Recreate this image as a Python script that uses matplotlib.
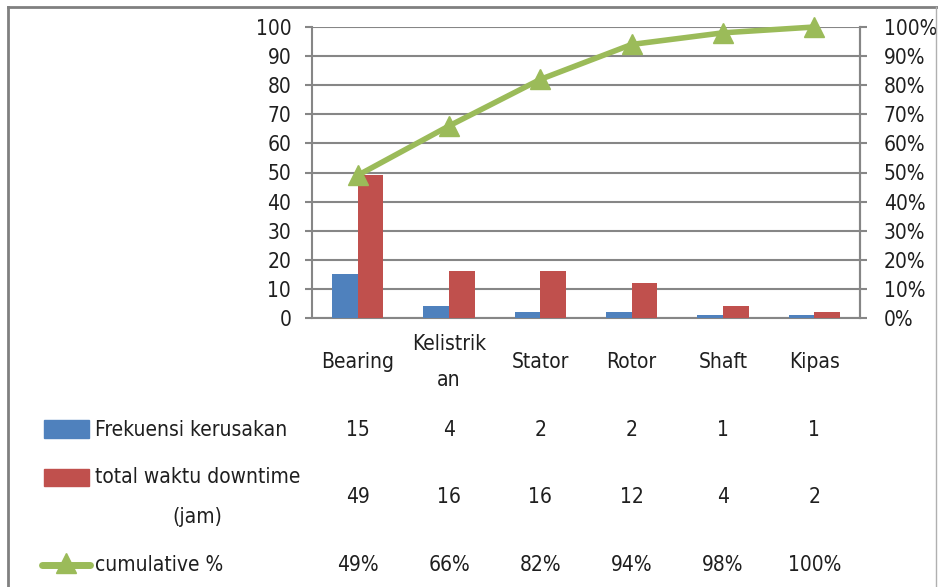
import matplotlib.pyplot as plt
import matplotlib.transforms as mtransforms
from matplotlib.lines import Line2D
from matplotlib.patches import Rectangle

# data
categories = ['Bearing', 'Kelistrik\nan', 'Stator', 'Rotor', 'Shaft', 'Kipas']
frekuensi = [15, 4, 2, 2, 1, 1]
downtime = [49, 16, 16, 12, 4, 2]
cumulative = [0.49, 0.66, 0.82, 0.94, 0.98, 1.00]
cumulative_labels = ['49%', '66%', '82%', '94%', '98%', '100%']
left_ticks = list(range(0, 101, 10))
right_ticks = [t / 100 for t in range(0, 101, 10)]

BLUE = '#4F81BD'
RED = '#C0504D'
GREEN = '#9BBB59'
GRID = '#868686'
TXT = '#1f1f1f'

plt.rcParams['font.family'] = ['DejaVu Sans']
plt.rcParams['font.stretch'] = 'condensed'
FS = 15

W, H = 938, 587
fig = plt.figure(figsize=(W / 100, H / 100), dpi=100)


def fy(px):
    # pixel row (from top) -> figure fraction
    return 1 - px / H


def fx(px):
    return px / W


ax = fig.add_axes([fx(312), fy(318), (860 - 312) / W, (318 - 27) / H])
x = list(range(len(categories)))
bw = 0.281
ax.bar([i - bw / 2 for i in x], frekuensi, width=bw, color=BLUE, zorder=3)
ax.bar([i + bw / 2 for i in x], downtime, width=bw, color=RED, zorder=3)
ax.set_xlim(-0.5, len(categories) - 0.5)
ax.set_ylim(0, 100)
ax.set_yticks(left_ticks)
ax.set_xticks([])
ax.yaxis.grid(True, color=GRID, linewidth=1.5, zorder=0)
ax.set_axisbelow(True)
ax.tick_params(axis='y', length=5, width=1.5, color=GRID, labelsize=FS,
               labelcolor=TXT, pad=10)
ax.spines['top'].set_visible(False)
for s in ['left', 'bottom', 'right']:
    ax.spines[s].set_color(GRID)
    ax.spines[s].set_linewidth(1.5)

ax2 = ax.twinx()
ax2.plot(x, cumulative, color=GREEN, linewidth=4, marker='^', markersize=15,
         zorder=5, clip_on=False)
ax2.set_ylim(0, 1)
ax2.set_yticks(right_ticks)
ax2.set_yticklabels([f'{int(round(t * 100))}%' for t in right_ticks])
ax2.tick_params(axis='y', length=5, width=1.5, color=GRID, labelsize=FS,
                labelcolor=TXT, pad=12)
ax2.spines['top'].set_visible(False)
ax2.spines['right'].set_color(GRID)
ax2.spines['right'].set_linewidth(1.5)
ax2.spines['left'].set_visible(False)
ax2.spines['bottom'].set_visible(False)

# data table underneath, columns follow the category positions
trans = mtransforms.blended_transform_factory(ax.transData, fig.transFigure)
for i, cat in enumerate(categories):
    ax.text(i, fy(362), cat, transform=trans, ha='center', va='center',
            fontsize=FS, color=TXT, linespacing=2.0)
    ax.text(i, fy(430), str(frekuensi[i]), transform=trans, ha='center',
            va='center', fontsize=FS, color=TXT)
    ax.text(i, fy(497), str(downtime[i]), transform=trans, ha='center',
            va='center', fontsize=FS, color=TXT)
    ax.text(i, fy(565), cumulative_labels[i], transform=trans, ha='center',
            va='center', fontsize=FS, color=TXT)

# row headers with legend keys
fig.patches.append(Rectangle((fx(44), fy(438)), 45 / W, 18 / H, color=BLUE,
                             transform=fig.transFigure, figure=fig))
fig.patches.append(Rectangle((fx(44), fy(486)), 45 / W, 17 / H, color=RED,
                             transform=fig.transFigure, figure=fig))
fig.lines.append(Line2D([fx(42), fx(90)], [fy(565), fy(565)], color=GREEN,
                        linewidth=5, solid_capstyle='round',
                        transform=fig.transFigure))
fig.lines.append(Line2D([fx(66)], [fy(563)], color=GREEN, marker='^',
                        markersize=15, linestyle='none',
                        transform=fig.transFigure))
fig.text(fx(95), fy(430), 'Frekuensi kerusakan', ha='left', va='center',
         fontsize=FS, color=TXT)
fig.text(fx(95), fy(497), 'total waktu downtime\n(jam)', ha='left',
         va='center', multialignment='center', fontsize=FS, color=TXT,
         linespacing=2.2)
fig.text(fx(95), fy(565), 'cumulative %', ha='left', va='center',
         fontsize=FS, color=TXT)

# outer chart frame
fig.lines.append(Line2D([fx(8), fx(937)], [fy(7), fy(7)], color='#808080',
                        linewidth=2, transform=fig.transFigure))
fig.lines.append(Line2D([fx(8), fx(8)], [fy(7), 0], color='#808080',
                        linewidth=2, transform=fig.transFigure))
fig.lines.append(Line2D([fx(936), fx(936)], [fy(7), 0], color='#b0b0b0',
                        linewidth=1, transform=fig.transFigure))

fig.savefig('out.png', dpi=100)
